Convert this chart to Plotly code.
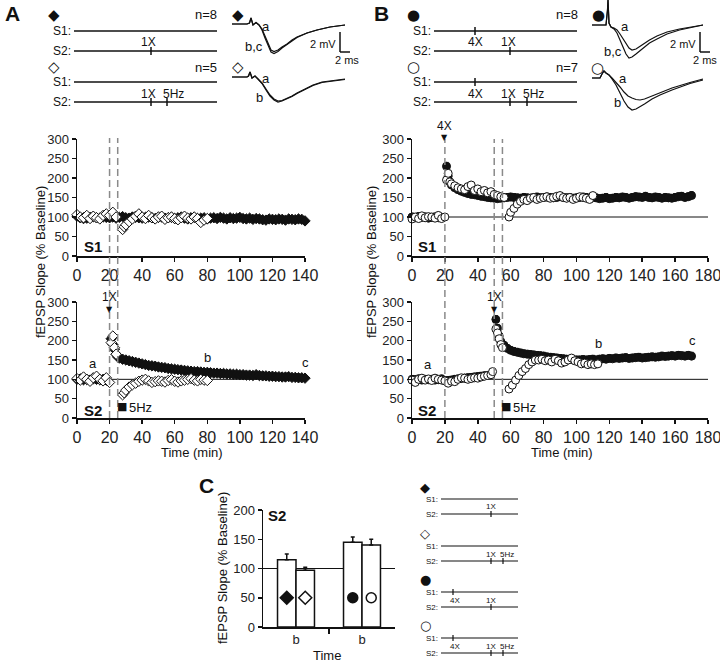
import plotly.graph_objects as go

# ---------------- DATA ----------------
# Panel A (diamonds), time in min, fEPSP slope in % baseline
A_S1_FILL_T = list(range(0, 141, 2))
A_S1_FILL_V = [102, 98, 96, 97, 99, 101, 98, 97, 100, 99, 98, 100, 97, 99, 101, 98, 97, 100, 99, 98,
               97, 99, 100, 98, 96, 99, 100, 97, 98, 99, 96, 98, 100, 97, 95, 98, 99, 96, 97, 98,
               95, 97, 98, 96, 99, 97, 95, 98, 96, 97, 99, 96, 95, 97, 94, 96, 95, 93, 92, 95,
               94, 93, 95, 94, 92, 95, 94, 93, 95, 94, 90]
A_S1_OPEN_T = list(range(0, 25, 2)) + [28, 29] + list(range(30, 81, 2))
A_S1_OPEN_V = [106, 100, 98, 104, 96, 102, 98, 95, 104, 108, 104, 112, 100,
               68, 75,
               80, 88, 95, 102, 108, 100, 96, 104, 98, 95, 100, 102, 94, 98, 100, 96, 93, 98, 102, 97,
               95, 100, 96, 86, 92, 96]
A_S2_FILL_T = list(range(0, 19, 2)) + [21, 22, 23, 24, 25] + list(range(26, 141, 2))
A_S2_FILL_V = [100, 101, 99, 100, 98, 101, 100, 99, 100, 98,
               205, 190, 178, 165, 158,
               155, 152, 150, 148, 146, 144, 142, 140, 138, 136, 135, 134, 132, 131, 130, 128, 127, 126, 125, 124,
               123, 122, 121, 120, 120, 119, 118, 118, 117, 116, 116, 115, 115, 114, 114, 113, 113, 112, 112, 111,
               111, 110, 112, 110, 109, 109, 108, 108, 107, 107, 106, 106, 107, 105, 105, 104, 104, 103]
A_S2_OPEN_T = list(range(0, 21, 2)) + [21, 22, 23, 24] + [28, 29] + list(range(30, 81, 2))
A_S2_OPEN_V = [102, 98, 106, 100, 95, 104, 108, 100, 96, 104, 92,
               195, 212, 182, 165,
               60, 65,
               72, 80, 86, 90, 95, 98, 100, 96, 92, 94, 96, 95, 93, 97, 99, 95, 93, 96, 98, 100,
               102, 98, 96, 100, 98, 97]

# Panel B (circles)
B_S1_FILL_T = list(range(0, 19, 2)) + [21, 22, 23, 24] + list(range(26, 171, 2))
B_S1_FILL_V = [100, 98, 101, 99, 100, 97, 99, 100, 98, 99,
               230, 205, 190, 182,
               175, 170, 166, 163, 160, 158, 157, 155, 153, 152, 150, 149, 148, 147, 148, 149, 150, 151, 150, 149,
               148, 150, 149, 148, 150, 151, 149, 150, 151, 150, 149, 150, 152, 150, 149, 150, 148, 149, 150, 151,
               150, 148, 150, 149, 147, 148, 150, 147, 148, 150, 149, 151, 150, 148, 150, 152, 151, 150, 153, 150,
               149, 151, 150, 148, 150, 149, 148, 150, 152, 153, 150, 152, 155]
B_S1_OPEN_T = list(range(0, 21, 2)) + [21, 22, 23, 24] + list(range(26, 57, 2)) + [59, 60] + list(range(62, 111, 2))
B_S1_OPEN_V = [95, 100, 96, 103, 98, 101, 100, 97, 104, 96, 100,
               195, 212, 190, 185,
               180, 175, 172, 170, 178, 182, 168, 172, 165, 168, 162, 165, 158, 155, 152, 150,
               100, 112,
               122, 133, 140, 145, 142, 148, 150, 145, 148, 150, 152, 148, 150, 153, 155, 150, 148, 150, 145, 148,
               152, 150, 148, 145, 155]
B_S2_FILL_T = list(range(0, 49, 2)) + [51, 52, 53, 54] + list(range(56, 171, 2))
B_S2_FILL_V = [100, 99, 101, 98, 100, 99, 100, 98, 99, 101, 96, 97, 98, 100, 101, 102, 103, 104, 105, 106,
               107, 108, 109, 110, 112,
               255, 232, 212, 198,
               188, 180, 175, 172, 170, 168, 166, 165, 164, 163, 162, 161, 160, 158, 157, 156, 155, 154, 153, 152,
               151, 150, 150, 150, 151, 150, 151, 152, 150, 152, 153, 152, 154, 153, 155, 154, 155, 156, 154, 155,
               156, 157, 155, 156, 157, 158, 157, 158, 160, 159, 160, 161, 160, 162, 161, 160, 162, 160]
B_S2_OPEN_T = list(range(0, 49, 2)) + [49] + [51, 52, 53, 54, 55] + [59] + list(range(61, 114, 2))
B_S2_OPEN_V = [98, 92, 100, 103, 98, 101, 97, 103, 100, 98, 96, 90, 95, 94, 100, 104, 103, 100, 102, 104,
               103, 106, 108, 110, 112,
               120,
               230, 220, 205, 190, 182,
               75,
               85, 98, 110, 120, 128, 138, 145, 150, 150, 152, 148, 150, 145, 152, 148, 142, 145, 150, 155, 148,
               145, 140, 142, 138, 140, 138, 140]
ERR_A_FILL, ERR_A_OPEN, ERR_B_FILL, ERR_B_OPEN = 6, 5, 10, 8

Y_TICKS = [0, 50, 100, 150, 200, 250, 300]
A_X_TICKS = [0, 20, 40, 60, 80, 100, 120, 140]
B_X_TICKS = [0, 20, 40, 60, 80, 100, 120, 140, 160, 180]
A_EVENTS = [20, 25]
B_EVENTS = [20, 50, 55]

# Panel C bars (S2 at time b)
C_GROUP_LABELS = ["b", "b"]
C_POS = [0.72, 1.28, 2.72, 3.28]
C_VALS = [115, 97, 145, 140]
C_ERR = [10, 5, 9, 10]
C_SYMBOLS = ["diamond", "diamond", "circle", "circle"]
C_FILLED = [True, False, True, False]
C_Y_TICKS = [0, 50, 100, 150, 200]

# Example fEPSP traces (ms, mV)
WF_DF_T = [0, 3.0, 3.5, 3.8, 4.2, 4.8, 5.4, 6.0, 6.6, 7.2, 7.8, 8.4, 9.2, 10, 11, 12, 13, 15, 17, 19.6, 22.6]
WF_DF_A = [0, 0, 0.1, 0.6, -0.1, 0.15, -0.1, -0.5, -1.2, -2.0, -2.6, -2.75, -2.6, -2.3, -2.0, -1.6, -1.3, -0.9, -0.6, -0.3, -0.1]
WF_DF_BC = [0, 0, 0.1, 0.6, -0.1, 0.15, -0.1, -0.6, -1.4, -2.2, -2.8, -2.95, -2.75, -2.4, -2.05, -1.7, -1.35, -0.9, -0.6, -0.3, -0.1]
WF_DO_T = [0, 3.0, 3.3, 3.6, 4.0, 4.6, 5.2, 6.0, 6.8, 7.6, 8.4, 9.2, 10, 11, 12, 13, 14.5, 16.2, 18, 20, 22.6]
WF_DO_A = [0, 0, 0.1, 0.5, -0.1, 0.1, -0.2, -0.6, -1.2, -1.8, -2.2, -2.4, -2.35, -2.15, -1.9, -1.6, -1.2, -0.8, -0.5, -0.35, -0.2]
WF_DO_B = [0, 0, 0.1, 0.5, -0.1, 0.1, -0.2, -0.65, -1.3, -1.9, -2.3, -2.5, -2.4, -2.2, -1.95, -1.65, -1.25, -0.85, -0.55, -0.4, -0.25]
WF_CF_T = [0, 2.8, 3.1, 3.2, 3.4, 3.8, 4.4, 5.0, 5.6, 6.2, 6.8, 7.4, 8.0, 8.8, 10, 11.5, 13, 15, 17.5, 20, 22.2]
WF_CF_A = [0, 0, 1.5, 2.5, 0.2, -0.2, -0.3, -0.5, -0.9, -1.4, -1.9, -2.3, -2.5, -2.4, -2.0, -1.5, -1.1, -0.7, -0.4, -0.2, 0]
WF_CF_BC = [0, 0, 1.5, 2.5, 0.2, -0.2, -0.4, -0.8, -1.5, -2.3, -2.9, -3.3, -3.2, -2.9, -2.4, -1.8, -1.4, -0.9, -0.5, -0.25, 0]
WF_CO_T = [0, 1.6, 2.0, 2.4, 2.8, 3.4, 4.0, 4.8, 5.6, 6.4, 7.2, 8.0, 8.8, 9.6, 10.5, 12, 13.6, 16, 19.6, 22.2]
WF_CO_A = [0, 0, 0.4, 0.7, 0.5, 0.3, 0.0, -0.4, -0.9, -1.4, -1.8, -2.0, -2.15, -2.2, -2.1, -1.8, -1.5, -1.0, -0.45, -0.1]
WF_CO_B = [0, 0, 0.4, 0.7, 0.5, 0.3, -0.1, -0.7, -1.5, -2.3, -2.9, -3.2, -3.1, -2.9, -2.6, -2.1, -1.7, -1.2, -0.55, -0.2]
SCALE_MV, SCALE_MS = 2, 2

# ---------------- FIGURE ----------------
W, H = 720, 664
FONT = "Liberation Sans, Arial, sans-serif"
INK = "#111111"
TICKC = "#222222"


def px(x):
    return x / W


def py(y):
    return 1 - y / H


fig = go.Figure()


def add_series(t, v, sym, filled, xa, ya, err):
    fig.add_trace(go.Scatter(
        x=t, y=v, mode="markers", xaxis=xa, yaxis=ya, cliponaxis=False, hoverinfo="skip",
        marker=dict(symbol=sym, size=8, color=INK if filled else "white", line=dict(color=INK, width=1)),
        error_y=dict(type="constant", value=err, valueminus=0, symmetric=False, color=INK, thickness=1, width=2)))


add_series(A_S1_FILL_T, A_S1_FILL_V, "diamond", True, "x", "y", ERR_A_FILL)
add_series(A_S1_OPEN_T, A_S1_OPEN_V, "diamond", False, "x", "y", ERR_A_OPEN)
add_series(A_S2_FILL_T, A_S2_FILL_V, "diamond", True, "x2", "y2", ERR_A_FILL)
add_series(A_S2_OPEN_T, A_S2_OPEN_V, "diamond", False, "x2", "y2", ERR_A_OPEN)
add_series(B_S1_FILL_T, B_S1_FILL_V, "circle", True, "x3", "y3", ERR_B_FILL)
add_series(B_S1_OPEN_T, B_S1_OPEN_V, "circle", False, "x3", "y3", ERR_B_OPEN)
add_series(B_S2_FILL_T, B_S2_FILL_V, "circle", True, "x4", "y4", ERR_B_FILL)
add_series(B_S2_OPEN_T, B_S2_OPEN_V, "circle", False, "x4", "y4", ERR_B_OPEN)

# Panel C bars
fig.add_trace(go.Bar(
    x=C_POS, y=C_VALS, width=0.56, xaxis="x5", yaxis="y5", hoverinfo="skip",
    marker=dict(color="white", line=dict(color=INK, width=1.5)),
    error_y=dict(type="data", array=C_ERR, arrayminus=[0] * len(C_ERR), symmetric=False,
                 color=INK, thickness=1.5, width=2)))
fig.add_trace(go.Scatter(
    x=C_POS, y=[50] * len(C_POS), mode="markers", xaxis="x5", yaxis="y5", hoverinfo="skip",
    marker=dict(symbol=C_SYMBOLS, size=10, color=[INK if f else "white" for f in C_FILLED],
                line=dict(color=INK, width=1.5))))

# Waveforms
for t, v, xa, ya in [(WF_DF_T, WF_DF_A, "x6", "y6"), (WF_DF_T, WF_DF_BC, "x6", "y6"),
                     (WF_DO_T, WF_DO_A, "x7", "y7"), (WF_DO_T, WF_DO_B, "x7", "y7"),
                     (WF_CF_T, WF_CF_A, "x8", "y8"), (WF_CF_T, WF_CF_BC, "x8", "y8"),
                     (WF_CO_T, WF_CO_A, "x9", "y9"), (WF_CO_T, WF_CO_B, "x9", "y9")]:
    fig.add_trace(go.Scatter(x=t, y=v, mode="lines", xaxis=xa, yaxis=ya, cliponaxis=False,
                             hoverinfo="skip", line=dict(color=INK, width=1.2)))

axis_common = dict(showline=True, linecolor=INK, linewidth=1.5, ticks="outside", ticklen=4,
                   tickwidth=1.5, tickcolor=INK, showgrid=False, zeroline=False, fixedrange=True,
                   automargin=False, ticklabeloverflow="allow")
xfont = dict(family=FONT, size=16, color=TICKC)
yfont = dict(family=FONT, size=13, color=TICKC)

layout_axes = dict(
    xaxis=dict(axis_common, domain=[px(77), px(305)], range=[0, 140], tickvals=A_X_TICKS, anchor="y", tickfont=xfont),
    yaxis=dict(axis_common, domain=[py(256), py(139)], range=[0, 300], tickvals=Y_TICKS, anchor="x", tickfont=yfont),
    xaxis2=dict(axis_common, domain=[px(77), px(305)], range=[0, 140], tickvals=A_X_TICKS, anchor="y2", tickfont=xfont),
    yaxis2=dict(axis_common, domain=[py(418), py(302)], range=[0, 300], tickvals=Y_TICKS, anchor="x2", tickfont=yfont),
    xaxis3=dict(axis_common, domain=[px(412), px(708)], range=[0, 180], tickvals=B_X_TICKS, anchor="y3", tickfont=xfont),
    yaxis3=dict(axis_common, domain=[py(256), py(139)], range=[0, 300], tickvals=Y_TICKS, anchor="x3", tickfont=yfont),
    xaxis4=dict(axis_common, domain=[px(412), px(708)], range=[0, 180], tickvals=B_X_TICKS, anchor="y4", tickfont=xfont),
    yaxis4=dict(axis_common, domain=[py(418), py(302)], range=[0, 300], tickvals=Y_TICKS, anchor="x4", tickfont=yfont),
    xaxis5=dict(axis_common, domain=[px(263), px(395)], range=[0, 4], tickvals=[1, 3], ticktext=C_GROUP_LABELS,
                ticks="", anchor="y5", tickfont=dict(family=FONT, size=13, color=TICKC),
                minor=dict(tickvals=[2], ticks="outside", ticklen=5, tickwidth=1.5, tickcolor=INK)),
    yaxis5=dict(axis_common, domain=[py(627), py(510)], range=[0, 200], tickvals=C_Y_TICKS, anchor="x5", tickfont=yfont),
)
hidden = dict(visible=False, fixedrange=True, automargin=False)
layout_axes.update(
    xaxis6=dict(hidden, domain=[px(232), px(362)], range=[0, 26], anchor="y6"),
    yaxis6=dict(hidden, domain=[py(62), py(5)], range=[-3.8, 1.9], anchor="x6"),
    xaxis7=dict(hidden, domain=[px(232), px(362)], range=[0, 26], anchor="y7"),
    yaxis7=dict(hidden, domain=[py(112), py(62)], range=[-3.5, 1.5], anchor="x7"),
    xaxis8=dict(hidden, domain=[px(592), px(717)], range=[0, 25], anchor="y8"),
    yaxis8=dict(hidden, domain=[py(62), 1.0], range=[-3.7, 2.5], anchor="x8"),
    xaxis9=dict(hidden, domain=[px(592), px(717)], range=[0, 25], anchor="y9"),
    yaxis9=dict(hidden, domain=[py(116), py(62)], range=[-3.8, 1.6], anchor="x9"),
)

shapes = []


def pline(x0, y0, x1, y1, w=1.5, color=INK):
    shapes.append(dict(type="line", xref="paper", yref="paper", x0=px(x0), y0=py(y0), x1=px(x1), y1=py(y1),
                       line=dict(color=color, width=w)))


# dashed event lines
for t in A_EVENTS:
    shapes.append(dict(type="line", xref="x", yref="paper", x0=t, x1=t, y0=py(418), y1=py(138),
                       line=dict(color="#8a8a8a", width=1.5, dash="7px,4px")))
for t in B_EVENTS:
    shapes.append(dict(type="line", xref="x3", yref="paper", x0=t, x1=t, y0=py(418), y1=py(139),
                       line=dict(color="#8a8a8a", width=1.5, dash="7px,4px")))
# baseline 100 % lines
for xa, ya, xmax in [("x2", "y2", 140), ("x3", "y3", 180), ("x4", "y4", 180), ("x5", "y5", 4)]:
    shapes.append(dict(type="line", xref=xa, yref=ya, x0=0, x1=xmax, y0=100, y1=100, layer="below",
                       line=dict(color=INK, width=1)))
# scale bars
for xa, ya, y0 in [("x6", "y6", -0.8), ("x8", "y8", -0.7)]:
    shapes.append(dict(type="line", xref=xa, yref=ya, x0=21.6, x1=21.6, y0=y0, y1=y0 - SCALE_MV,
                       line=dict(color=INK, width=1.5)))
    shapes.append(dict(type="line", xref=xa, yref=ya, x0=21.6, x1=21.6 + SCALE_MS, y0=y0 - SCALE_MV,
                       y1=y0 - SCALE_MV, line=dict(color=INK, width=1.5)))

annotations = []


def T(text, x, y, size=12, bold=False, anchor="center", angle=0, family=FONT, color=INK):
    if bold:
        text = "<b>" + text + "</b>"
    annotations.append(dict(text=text, x=px(x), y=py(y), xref="paper", yref="paper", showarrow=False,
                            xanchor=anchor, yanchor="middle", textangle=angle,
                            font=dict(family=family, size=size, color=color)))


# top schematics
def schematic(xl, x0, x1, y1, y2, ticks1, ticks2, lab, fs=12, th=4, lw=1.5):
    T("S1:", xl, y1, fs, anchor="right")
    T("S2:", xl, y2, fs, anchor="right")
    pline(x0, y1, x1, y1, lw)
    pline(x0, y2, x1, y2, lw)
    for xt in ticks1:
        pline(xt, y1 - th, xt, y1 + th, lw)
    for xt in ticks2:
        pline(xt, y2 - th, xt, y2 + th, lw)
    for txt, xx, yy in lab:
        T(txt, xx, yy, fs)


SYMF = "DejaVu Sans"
T("A", 13, 13, 21, bold=True)
T("B", 381, 13, 21, bold=True)
T("C", 206, 485, 21, bold=True)

T("◆", 54, 15, 15, family=SYMF)
T("n=8", 206, 15, 13)
schematic(73, 74, 217, 31, 51, [], [151], [("1X", 148, 42)])
T("◇", 54, 67, 15, family=SYMF)
T("n=5", 206, 67, 13)
schematic(73, 74, 217, 82, 102, [], [151, 167], [("1X", 148, 94), ("5Hz", 173, 94)])

T("●", 414, 15, 15, family=SYMF)
T("n=8", 567, 15, 13)
schematic(433, 434, 577, 31, 51, [475], [510], [("4X", 475, 42), ("1X", 508, 42)])
T("○", 414, 67, 15, family=SYMF)
T("n=7", 567, 67, 13)
schematic(433, 434, 577, 82, 102, [475], [510, 527], [("4X", 475, 94), ("1X", 508, 94), ("5Hz", 533, 94)])

# waveform labels
T("◆", 238, 15, 15, family=SYMF)
T("a", 266, 26, 13)
T("b,c", 254, 47, 13)
T("◇", 238, 67, 15, family=SYMF)
T("a", 266, 78, 13)
T("b", 259, 97, 13)
T("2 mV", 338, 44, 11, anchor="right")
T("2 ms", 347, 60, 11)
T("●", 598, 15, 15, family=SYMF)
T("a", 625, 27, 13)
T("b,c", 613, 52, 13)
T("○", 597, 68, 15, family=SYMF)
T("a", 623, 78, 13)
T("b", 617, 102, 13)
T("2 mV", 698, 44, 11, anchor="right")
T("2 ms", 705, 60, 11)

# main plot labels
YT = "fEPSP Slope (% Baseline)"
T(YT, 40, 262, 13, angle=-90)
T(YT, 371, 262, 13, angle=-90)
T(YT, 222, 568, 13, angle=-90)
T("Time (min)", 192, 452, 13)
T("Time (min)", 562, 452, 13)
T("Time", 327, 655, 13)
T("S1", 93, 247, 15, bold=True)
T("S2", 93, 410, 15, bold=True)
T("S1", 427, 247, 15, bold=True)
T("S2", 427, 410, 15, bold=True)
T("S2", 277, 515, 15, bold=True)
T("a", 93, 363, 13)
T("b", 208, 357, 13)
T("c", 305, 362, 13)
T("a", 428, 364, 13)
T("b", 598, 343, 13)
T("c", 692, 340, 13)


def event_label(text, xa, t, ytext, ytri):
    annotations.append(dict(text=text, x=t, y=py(ytext), xref=xa, yref="paper", showarrow=False,
                            font=dict(family=FONT, size=12, color=INK), yanchor="middle"))
    annotations.append(dict(text="▼", x=t, y=py(ytri), xref=xa, yref="paper", showarrow=False,
                            font=dict(family=SYMF, size=8, color=INK), yanchor="middle"))


event_label("1X", "x2", A_EVENTS[0], 297, 309)
event_label("4X", "x3", B_EVENTS[0], 126, 137)
event_label("1X", "x4", B_EVENTS[1], 297, 309)

T("■", 122, 406, 11, family=SYMF)
T("5Hz", 127, 407, 13, anchor="left")
T("■", 506, 406, 11, family=SYMF)
T("5Hz", 511, 407, 13, anchor="left")

# panel C right schematics
for sym, yS, y1, y2, t1, t2, lab in [
        ("◆", 487, 499, 514, [], [491], [("1X", 491, 507)]),
        ("◇", 533, 546, 561, [], [491, 503], [("1X", 491, 554), ("5Hz", 507, 554)]),
        ("●", 579, 592, 607, [453], [491], [("4X", 455, 600), ("1X", 491, 600)]),
        ("○", 625, 638, 653, [453], [491, 503], [("4X", 455, 646), ("1X", 491, 646), ("5Hz", 507, 646)])]:
    T(sym, 425, yS, 13, family=SYMF)
    schematic(440, 441, 518, y1, y2, t1, t2, lab, fs=8, th=3, lw=1.2)

fig.update_layout(
    width=W, height=H, margin=dict(l=0, r=0, t=0, b=0, autoexpand=False),
    paper_bgcolor="white", plot_bgcolor="rgba(0,0,0,0)", showlegend=False,
    font=dict(family=FONT, color=INK), shapes=shapes, annotations=annotations,
    **layout_axes)

fig.write_html("out.html", config={"displayModeBar": False, "staticPlot": True},
               post_script="document.body.style.margin='0';document.body.style.padding='0';"
                           "document.body.style.overflow='hidden';")
